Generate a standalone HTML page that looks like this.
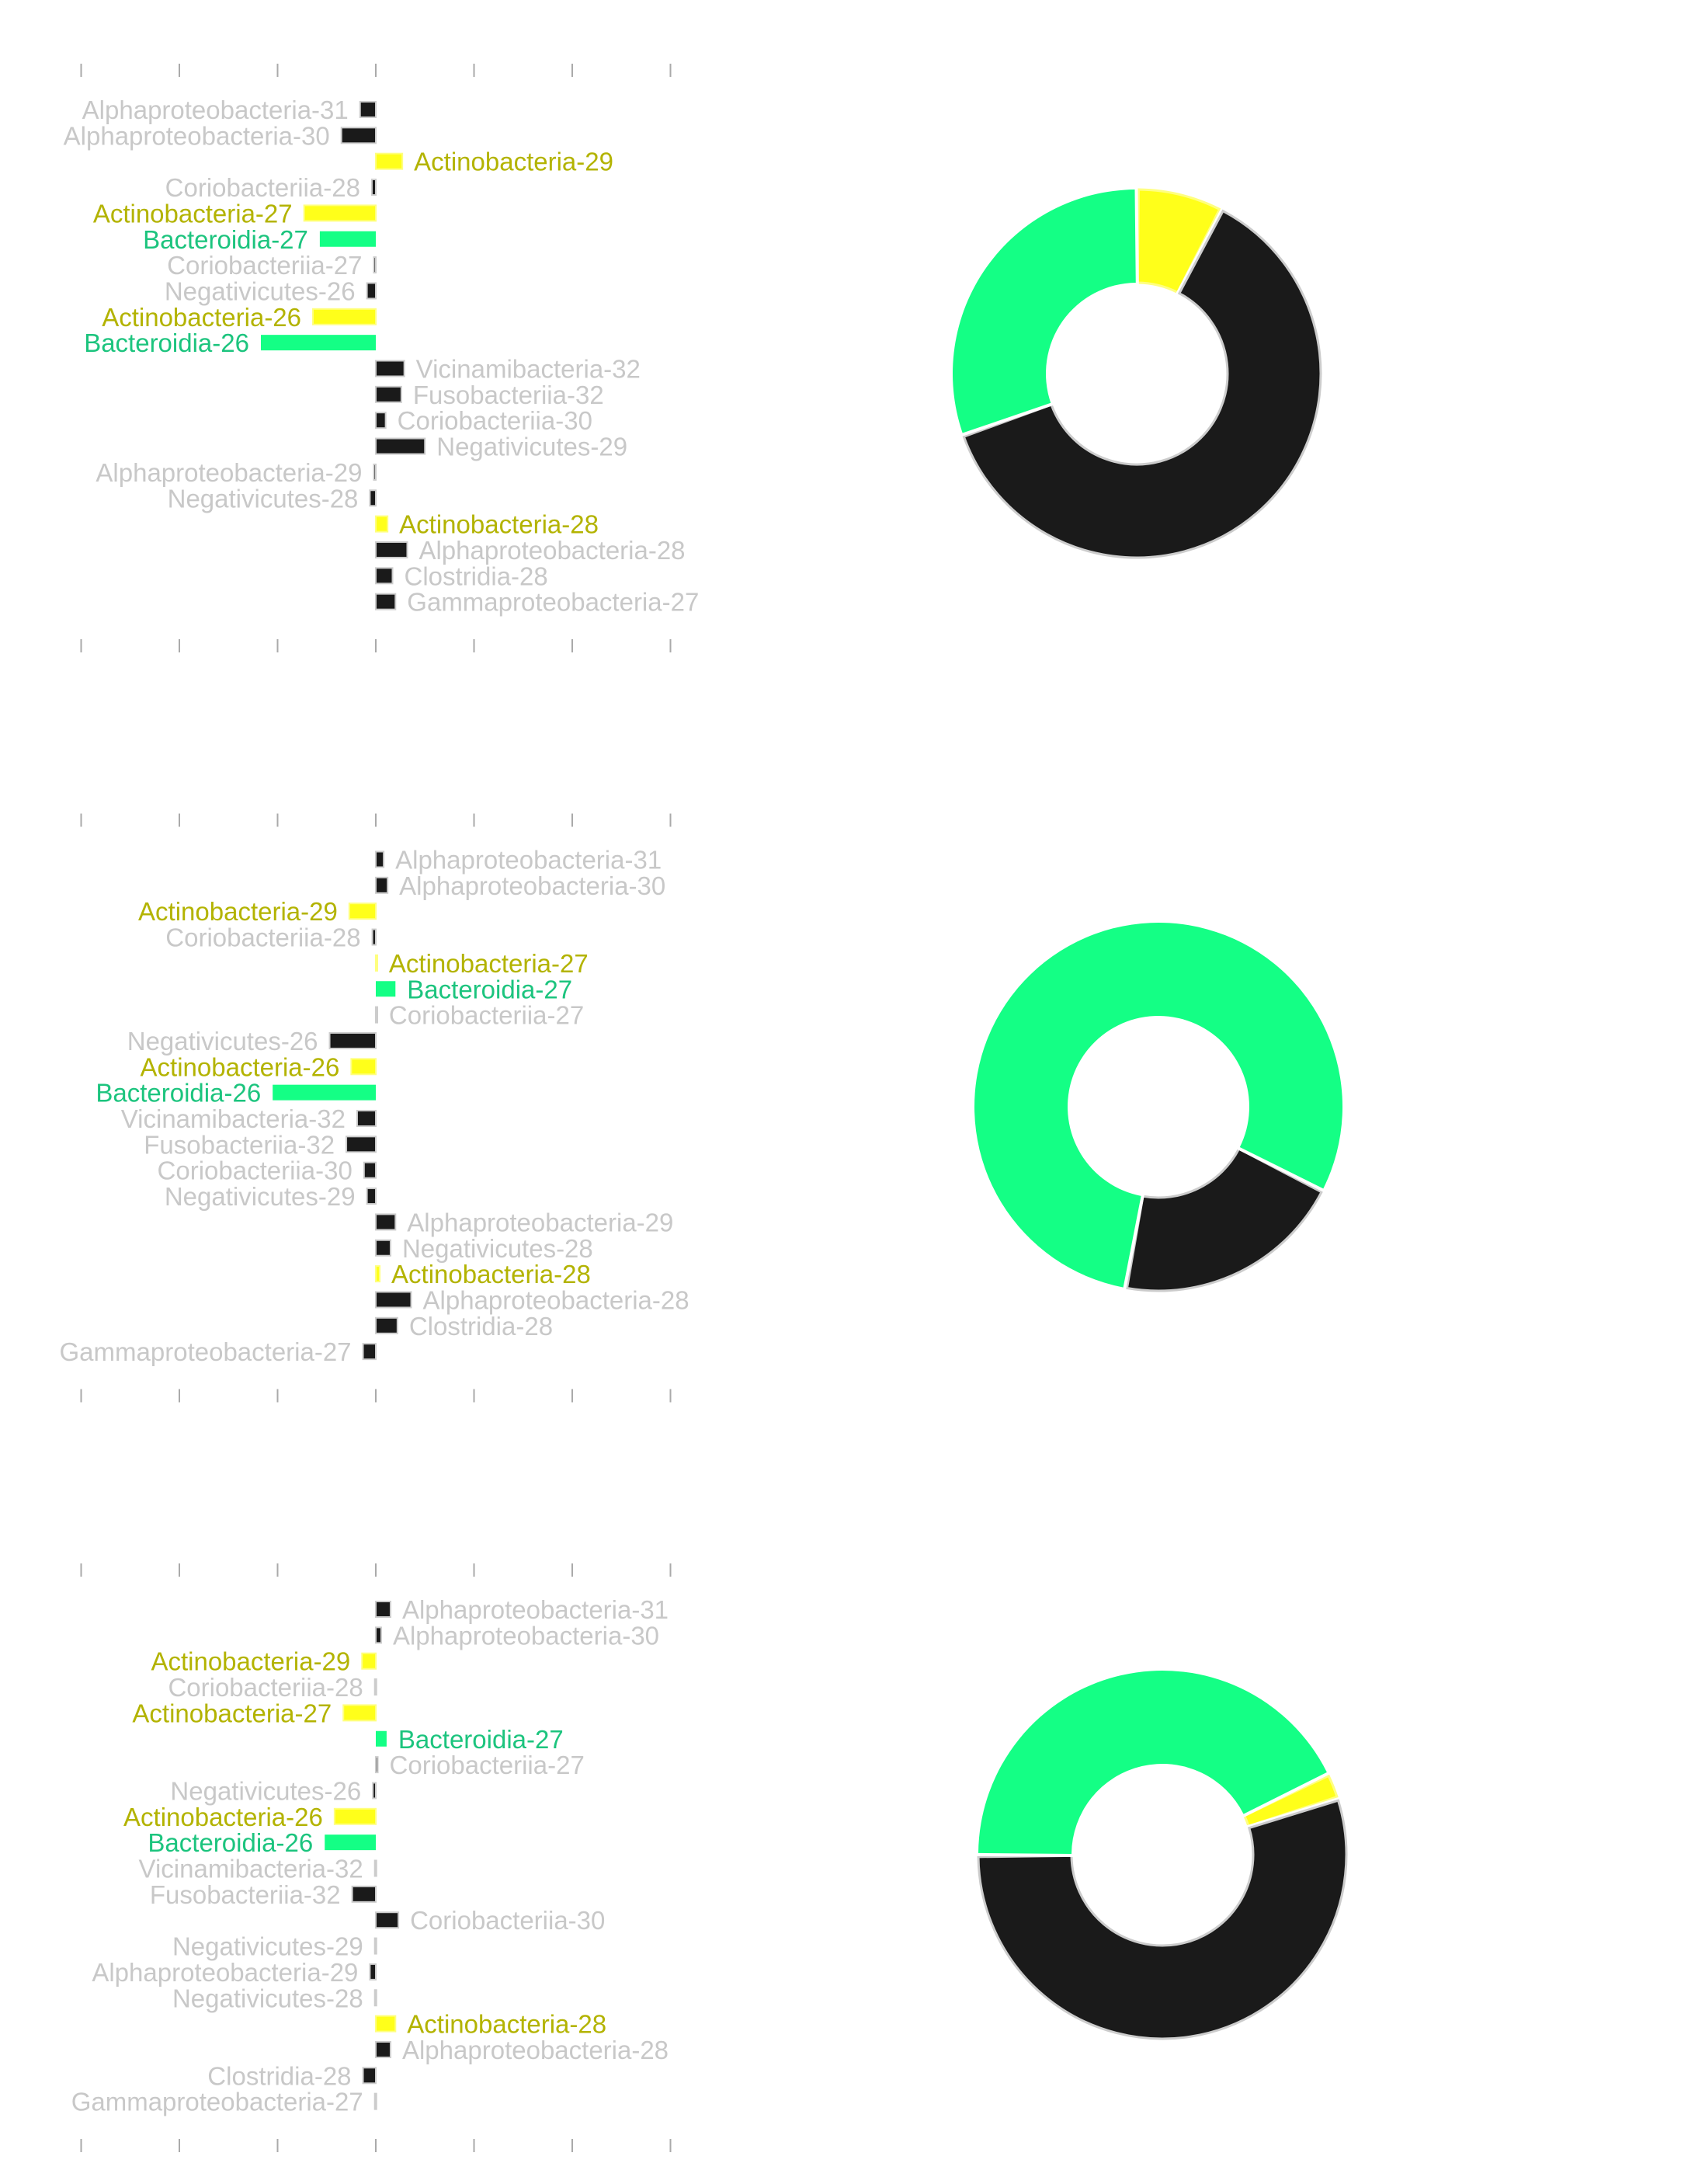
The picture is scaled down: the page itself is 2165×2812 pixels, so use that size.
<!DOCTYPE html>
<html><head><meta charset="utf-8"><style>
html,body{margin:0;padding:0;background:#fff}
svg{display:block}
text{font-family:"Liberation Sans",sans-serif;font-size:33px}
</style></head><body>
<svg id="chart" width="2165" height="2812" viewBox="0 0 2165 2812" xmlns="http://www.w3.org/2000/svg"></svg>
<script>
const categories = ["Alphaproteobacteria-31","Alphaproteobacteria-30","Actinobacteria-29","Coriobacteriia-28","Actinobacteria-27","Bacteroidia-27","Coriobacteriia-27","Negativicutes-26","Actinobacteria-26","Bacteroidia-26","Vicinamibacteria-32","Fusobacteriia-32","Coriobacteriia-30","Negativicutes-29","Alphaproteobacteria-29","Negativicutes-28","Actinobacteria-28","Alphaproteobacteria-28","Clostridia-28","Gammaproteobacteria-27"];
const groups = ["other","other","actino","other","actino","bacteroidia","other","other","actino","bacteroidia","other","other","other","other","other","other","actino","other","other","other"];
const panel1Values = [-0.16,-0.35,0.27,-0.04,-0.73,-0.57,-0.02,-0.09,-0.64,-1.17,0.29,0.26,0.10,0.50,-0.02,-0.06,0.12,0.32,0.17,0.20];
const panel2Values = [0.08,0.12,-0.27,-0.035,0.015,0.20,0.015,-0.47,-0.25,-1.05,-0.19,-0.30,-0.12,-0.09,0.20,0.15,0.04,0.36,0.22,-0.13];
const panel3Values = [0.15,0.055,-0.14,-0.01,-0.33,0.11,0.02,-0.03,-0.42,-0.52,-0.01,-0.24,0.23,-0.01,-0.06,-0.01,0.20,0.15,-0.13,-0.01];
const xTicks = [-3,-2,-1,0,1,2,3];
const donutGroups = ["actino","other","bacteroidia"];
const donut1Values = [7.6,62.0,30.4];
const donut2Values = [0,20.4,79.6];
const donut3Values = [2.3,54.9,42.8];
const donutStartDeg = [0,117,64];

const NS="http://www.w3.org/2000/svg";
const svg=document.getElementById('chart');
const fills={other:"#1a1a1a",actino:"#ffff1a",bacteroidia:"#14ff85"};
const strokes={other:"#cccccc",actino:"#ffff80",bacteroidia:"#14ff85"};
const labelColors={other:"#c8c8c8",actino:"#b3b300",bacteroidia:"#1cc47e"};
function el(tag,attrs,parent){const e=document.createElementNS(NS,tag);for(const k in attrs)e.setAttribute(k,attrs[k]);(parent||svg).appendChild(e);return e;}
const x=v=>484+v*126.5;
const PANEL_OFF=965.5;
const rowY=(i,p)=>141+i*33.35+p*PANEL_OFF;

[panel1Values,panel2Values,panel3Values].forEach((vals,p)=>{
  const g=el('g',{});
  
  
  xTicks.forEach(t=>{
    [82,823].forEach((ty,k)=>{
      const ln=el('line',{x1:x(t),x2:x(t),y1:ty+p*PANEL_OFF,y2:ty+17+p*PANEL_OFF,stroke:"#aaaaaa","stroke-width":2},g);
      
      
    });
  });
  vals.forEach((v,i)=>{
    const grp=groups[i];
    const cy=rowY(i,p);
    const x0=Math.min(x(0),x(v)), w=Math.max(Math.abs(x(v)-x(0)),2);
    const r=el('rect',{x:x0,y:cy-10,width:w,height:20,fill:fills[grp],stroke:strokes[grp],"stroke-width":grp==="bacteroidia"?0:2},g);
    
    
    const pos=v>=0;
    const t=el('text',{x:pos?x(v)+15:x(v)-15,y:cy+12,"text-anchor":pos?"start":"end",fill:labelColors[grp]},g);
    t.textContent=categories[i];
    
    
  });
});

const donutCenters=[[1464,481],[1492,1425],[1497,2388]];
function pt(cx,cy,r,deg){const a=(deg-90)*Math.PI/180;return [cx+r*Math.cos(a),cy+r*Math.sin(a)];}
[donut1Values,donut2Values,donut3Values].forEach((vals,d)=>{
  const g=el('g',{});
  
  
  const [cx,cy]=donutCenters[d];
  const R=237,r0=117;
  const total=vals.reduce((a,b)=>a+b,0);
  let a=donutStartDeg[d];
  vals.forEach((v,i)=>{
    const sweep=v/total*360;
    if(sweep<=0){return;}
    const pad=sweep>2?0.6:0.2;
    const s=a+pad,e=a+sweep-pad;
    const large=(e-s)>180?1:0;
    const p1=pt(cx,cy,R,s),p2=pt(cx,cy,R,e),p3=pt(cx,cy,r0,e),p4=pt(cx,cy,r0,s);
    const dstr=`M${p1[0]},${p1[1]} A${R},${R} 0 ${large} 1 ${p2[0]},${p2[1]} L${p3[0]},${p3[1]} A${r0},${r0} 0 ${large} 0 ${p4[0]},${p4[1]} Z`;
    const grp=donutGroups[i];
    el('path',{d:dstr,fill:"none",stroke:"#ffffff","stroke-width":8},g);
    const path=el('path',{d:dstr,fill:fills[grp],stroke:strokes[grp],"stroke-width":grp==="bacteroidia"?0:3},g);
    
    
    a+=sweep;
  });
});
</script>
</body></html>
